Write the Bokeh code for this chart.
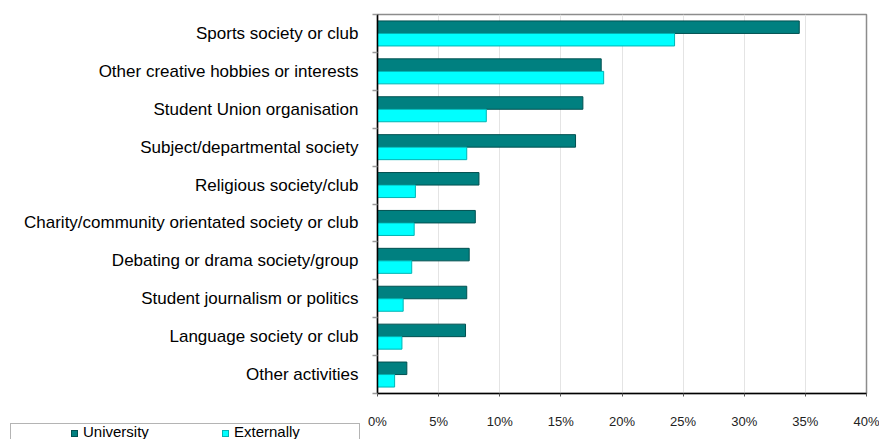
from bokeh.plotting import figure
from bokeh.layouts import column
from bokeh.models import (ColumnDataSource, Range1d, FixedTicker, PrintfTickFormatter, Div)
from bokeh.embed import file_html
from bokeh.resources import INLINE

categories = [
    "Sports society or club",
    "Other creative hobbies or interests",
    "Student Union organisation",
    "Subject/departmental society",
    "Religious society/club",
    "Charity/community orientated society or club",
    "Debating or drama society/group",
    "Student journalism or politics",
    "Language society or club",
    "Other activities",
]
university = [34.5, 18.3, 16.8, 16.2, 8.3, 8.0, 7.5, 7.3, 7.2, 2.4]
externally = [24.3, 18.5, 8.9, 7.3, 3.1, 3.0, 2.8, 2.1, 2.0, 1.4]
x_ticks = [0, 5, 10, 15, 20, 25, 30, 35, 40]
series_names = ["University", "Externally"]
fill_colors = ["#008080", "#00FFFF"]
edge_colors = ["#005050", "#00B4B4"]

n = len(categories)
centers = [n - i - 0.5 for i in range(n)]
off = 0.165
bar_h = 0.33

src_u = ColumnDataSource(dict(y=[c + off for c in centers], right=university))
src_e = ColumnDataSource(dict(y=[c - off for c in centers], right=externally))

p = figure(width=879, height=439, output_backend="svg", toolbar_location=None,
           x_range=Range1d(0, 40), y_range=Range1d(0, n),
           min_border_left=377, min_border_right=13, min_border_top=14,
           min_border_bottom=46)

p.hbar(y="y", left=0, right="right", height=bar_h, source=src_u,
       fill_color=fill_colors[0], line_color=edge_colors[0], line_width=1)
p.hbar(y="y", left=0, right="right", height=bar_h, source=src_e,
       fill_color=fill_colors[1], line_color=edge_colors[1], line_width=1)

p.outline_line_color = "#8c8c8c"
p.outline_line_width = 1.5
p.background_fill_color = "white"
p.border_fill_color = "white"

# x axis
xa = p.xaxis[0]
xa.ticker = FixedTicker(ticks=x_ticks, minor_ticks=[])
xa.formatter = PrintfTickFormatter(format="%d%%")
xa.axis_line_color = "black"
xa.axis_line_width = 1.5
xa.major_tick_line_color = "#555555"
xa.major_tick_out = 3
xa.major_tick_in = 0
xa.major_label_standoff = 17
xa.major_label_text_font = "Liberation Sans"
xa.major_label_text_font_size = "13px"
xa.major_label_text_color = "#222222"

# y axis
ya = p.yaxis[0]
ya.ticker = FixedTicker(ticks=centers, minor_ticks=[float(i) for i in range(n + 1)])
ya.major_label_overrides = {c: lab for c, lab in zip(centers, categories)}
ya.axis_line_color = "black"
ya.axis_line_width = 1.5
ya.major_tick_line_color = None
ya.major_tick_out = 0
ya.major_tick_in = 0
ya.minor_tick_line_color = "#9a9a9a"
ya.minor_tick_line_width = 1.5
ya.minor_tick_out = 5
ya.minor_tick_in = 0
ya.major_label_standoff = 14
ya.major_label_text_font = "Liberation Sans"
ya.major_label_text_font_size = "17px"
ya.major_label_text_color = "black"

p.xgrid.grid_line_color = "#e4e4e4"
p.xgrid.grid_line_width = 1
p.ygrid.grid_line_color = None

# legend strip laid over the bottom-left corner (box partly cut off at the window bottom)
item_left = [71, 222]
parts = []
for name, fc, ec, x0 in zip(series_names, fill_colors, edge_colors, item_left):
    parts.append(
        f'<span style="position:absolute;left:{x0}px;top:7px;width:7px;height:7px;'
        f'background:{fc};border:1px solid {ec};"></span>'
        f'<span style="position:absolute;left:{x0 + 12}px;top:1px;line-height:15px;'
        f'font-family:\'Liberation Sans\',Arial,sans-serif;font-size:15px;color:#000;'
        f'white-space:nowrap;">{name}</span>'
    )
html = (
    '<div style="position:relative;width:370px;height:16px;overflow:hidden;margin:0;padding:0;">'
    '<div style="position:absolute;left:10px;top:0px;width:350px;height:40px;'
    'border:1px solid #b4b4b4;background:white;"></div>'
    + "".join(parts) +
    '</div>'
)
legend_div = Div(text=html, width=370, height=16, margin=(-16, 0, 0, 0))

layout = column(p, legend_div, spacing=0)
open("out.html", "w").write(file_html(layout, INLINE))
